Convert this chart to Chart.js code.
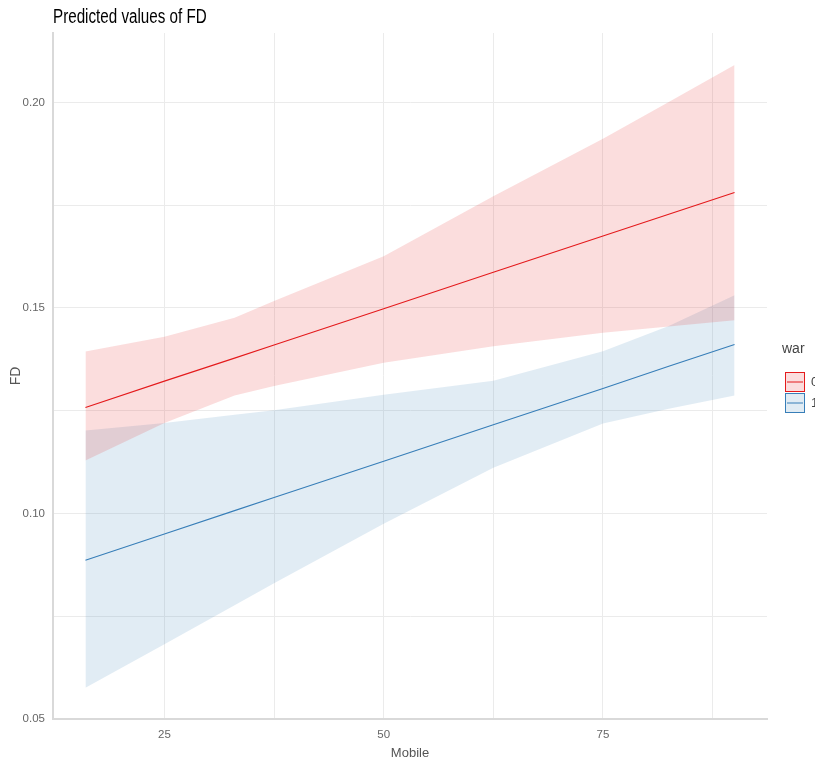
<!DOCTYPE html>
<html>
<head>
<meta charset="utf-8">
<script src="https://cdn.jsdelivr.net/npm/chart.js@4.4.1/dist/chart.umd.min.js"></script>
<style>
  html, body { margin: 0; padding: 0; background: #fff; }
  #wrap { width: 815px; height: 762px; }
</style>
</head>
<body>
<div id="wrap"><canvas id="fd-chart" width="815" height="762"></canvas></div>
<script>
// Données
const mobile = [16, 25, 33, 37.5, 50, 62.5, 75, 82.5, 90];

const war0Fit   = [0.1258, 0.1322, 0.1378, 0.1410, 0.1498, 0.1587, 0.1675, 0.1728, 0.1781];
const war0Upper = [0.1394, 0.1430, 0.1476, 0.1517, 0.1626, 0.1772, 0.1912, 0.2001, 0.2091];
const war0Lower = [0.1129, 0.1220, 0.1287, 0.1310, 0.1367, 0.1407, 0.1440, 0.1455, 0.1470];

const war1Fit   = [0.0886, 0.0950, 0.1007, 0.1039, 0.1127, 0.1216, 0.1304, 0.1358, 0.1411];
const war1Upper = [0.1202, 0.1220, 0.1240, 0.1251, 0.1289, 0.1323, 0.1395, 0.1456, 0.1531];
const war1Lower = [0.0576, 0.0682, 0.0777, 0.0830, 0.0975, 0.1111, 0.1219, 0.1255, 0.1287];

const xTicks = [25, 37.5, 50, 62.5, 75, 87.5];
const xLabels = [25, 50, 75];
const yTicks = [0.05, 0.075, 0.10, 0.125, 0.15, 0.175, 0.20];
const yLabels = [0.05, 0.10, 0.15, 0.20];
const legendTitle = 'war';
const legendLabels = ['0', '1'];

const RED = '#e41a1c';
const BLUE = '#377eb8';
const RED_FILL = 'rgba(228,26,28,0.15)';
const BLUE_FILL = 'rgba(55,126,184,0.15)';
const FONT = "'Liberation Sans', Arial, sans-serif";

// Helpers
const pts = ys => mobile.map((x, i) => ({ x, y: ys[i] }));
const has = (arr, v) => arr.some(a => Math.abs(a - v) < 1e-9);

function ribbon(data, bg, fill) {
  return { data: pts(data), borderWidth: 0, pointRadius: 0, backgroundColor: bg, fill, order: 2, tension: 0 };
}
function fitLine(data, color) {
  return { data: pts(data), borderColor: color, borderWidth: 1.1, pointRadius: 0, fill: false, order: 0, tension: 0 };
}

// Titre + légende dessinés à la main
const decor = {
  id: 'decor',
  afterDraw(chart) {
    const c = chart.ctx;
    c.save();
    // titre un peu condensé comme l'original
    c.save();
    c.translate(53, 23);
    c.scale(0.76, 1);
    c.fillStyle = '#000';
    c.font = `20px ${FONT}`;
    c.textBaseline = 'alphabetic';
    c.fillText('Predicted values of FD', 0, 0);
    c.restore();

    c.fillStyle = '#444';
    c.font = `14px ${FONT}`;
    c.textBaseline = 'middle';
    c.fillText(legendTitle, 782, 349);
    const keys = [[RED, RED_FILL], [BLUE, BLUE_FILL]];
    keys.forEach(([col, bg], i) => {
      const y = 372 + i * 21;
      c.fillStyle = '#fff';
      c.fillRect(785, y, 19, 19);
      c.fillStyle = bg;
      c.fillRect(785, y, 19, 19);
      c.strokeStyle = col;
      c.lineWidth = 1;
      c.strokeRect(785.5, y + 0.5, 19, 19);
      c.beginPath();
      c.moveTo(787, y + 10);
      c.lineTo(803, y + 10);
      c.stroke();
      c.fillStyle = '#444';
      c.font = `13px ${FONT}`;
      c.fillText(legendLabels[i], 811, y + 10);
    });
    c.restore();
  }
};

const chart = new Chart(document.getElementById('fd-chart'), {
  type: 'line',
  data: {
    datasets: [
      ribbon(war0Upper, RED_FILL, '+1'),
      ribbon(war0Lower, RED_FILL, false),
      ribbon(war1Upper, BLUE_FILL, '+1'),
      ribbon(war1Lower, BLUE_FILL, false),
      fitLine(war0Fit, RED),
      fitLine(war1Fit, BLUE)
    ]
  },
  options: {
    responsive: false,
    animation: false,
    layout: { padding: { top: 33, right: 48, left: 0, bottom: 0 } },
    plugins: { legend: { display: false }, tooltip: { enabled: false } },
    scales: {
      x: {
        type: 'linear',
        min: 12.3,
        max: 93.7,
        afterBuildTicks: s => { s.ticks = xTicks.map(v => ({ value: v })); },
        afterFit: s => { s.height = 43; },
        ticks: {
          padding: 9,
          color: '#666',
          font: { family: FONT, size: 11.5 },
          maxRotation: 0,
          callback: v => has(xLabels, v) ? String(v) : ''
        },
        grid: { color: '#ebebeb', lineWidth: 1, drawTicks: false },
        border: { color: '#d9d9d9', width: 2 },
        title: { display: true, text: 'Mobile', color: '#555', font: { family: FONT, size: 13 }, padding: { top: 0, bottom: 1 } }
      },
      y: {
        min: 0.05,
        max: 0.2169,
        afterBuildTicks: s => { s.ticks = yTicks.map(v => ({ value: v })); },
        afterFit: s => { s.width = 53; },
        ticks: {
          padding: 8,
          color: '#666',
          font: { family: FONT, size: 11.5 },
          callback: v => has(yLabels, v) ? v.toFixed(2) : ''
        },
        grid: { color: '#ebebeb', lineWidth: 1, drawTicks: false },
        border: { color: '#d9d9d9', width: 2 },
        title: { display: true, text: 'FD', color: '#555', font: { family: FONT, size: 14 }, padding: { top: 8, bottom: 0 } }
      }
    }
  },
  plugins: [decor]
});
</script>
</body>
</html>
